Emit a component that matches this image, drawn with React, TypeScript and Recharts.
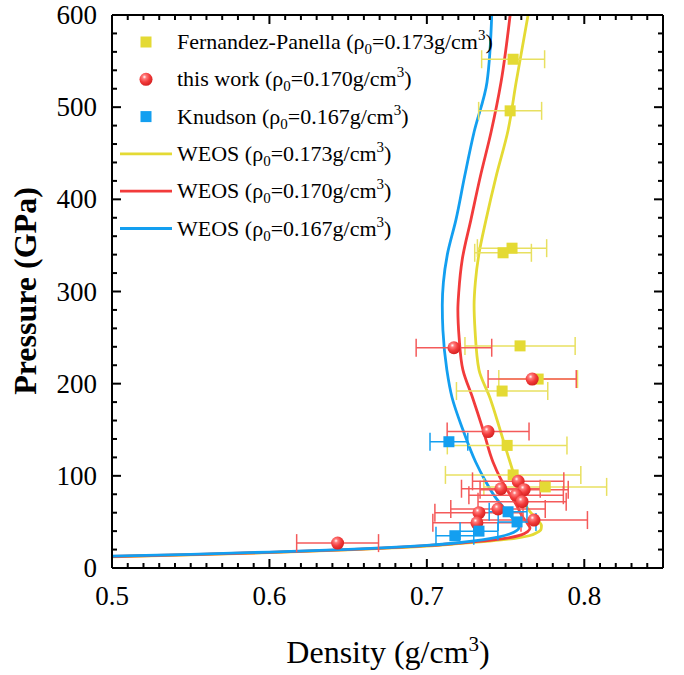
import React from 'react';
import { ComposedChart, Line, Scatter, XAxis, YAxis, ErrorBar, Label } from 'recharts';

const FONT = "'Times New Roman', 'Liberation Serif', serif";
const YELLOW = '#e4da34';
const YELLOW_ERR = '#e8e060';
const RED = '#f23b3b';
const RED_ERR = '#f45a5a';
const BLUE = '#139ff0';

// density ticks (g/cm3) and pressure ticks (GPa)
const xMajorTicks = [0.5, 0.6, 0.7, 0.8];
const xAllTicks = [
  0.5, 0.51, 0.52, 0.53, 0.54, 0.55, 0.56, 0.57, 0.58, 0.59,
  0.6, 0.61, 0.62, 0.63, 0.64, 0.65, 0.66, 0.67, 0.68, 0.69,
  0.7, 0.71, 0.72, 0.73, 0.74, 0.75, 0.76, 0.77, 0.78, 0.79,
  0.8, 0.81, 0.82, 0.83, 0.84, 0.85,
];
const yMajorTicks = [0, 100, 200, 300, 400, 500, 600];
const yAllTicks = [
  0, 20, 40, 60, 80, 100, 120, 140, 160, 180, 200, 220, 240, 260, 280, 300,
  320, 340, 360, 380, 400, 420, 440, 460, 480, 500, 520, 540, 560, 580, 600,
];

// experimental points: x = density, y = pressure, e = density error
const fernandezPanella = [
  { x: 0.7548, y: 552, e: 0.020 },
  { x: 0.7529, y: 496, e: 0.020 },
  { x: 0.7541, y: 347, e: 0.022 },
  { x: 0.7484, y: 342, e: 0.018 },
  { x: 0.7592, y: 241, e: 0.035 },
  { x: 0.7707, y: 205, e: 0.025 },
  { x: 0.7478, y: 192, e: 0.029 },
  { x: 0.7510, y: 133, e: 0.038 },
  { x: 0.7548, y: 101, e: 0.043 },
  { x: 0.7752, y: 88, e: 0.039 },
];

const thisWork = [
  { x: 0.7172, y: 239, e: 0.024 },
  { x: 0.7669, y: 205, e: 0.028 },
  { x: 0.7389, y: 148, e: 0.026 },
  { x: 0.7580, y: 94, e: 0.029 },
  { x: 0.7470, y: 86, e: 0.025 },
  { x: 0.7618, y: 85, e: 0.028 },
  { x: 0.7567, y: 79, e: 0.030 },
  { x: 0.7605, y: 72, e: 0.028 },
  { x: 0.7452, y: 64, e: 0.030 },
  { x: 0.7331, y: 60, e: 0.028 },
  { x: 0.7318, y: 49, e: 0.028 },
  { x: 0.7680, y: 52, e: 0.034 },
  { x: 0.6433, y: 27, e: 0.026 },
];

const knudson = [
  { x: 0.7140, y: 137, e: 0.012 },
  { x: 0.7516, y: 61, e: 0.012 },
  { x: 0.7573, y: 50, e: 0.012 },
  { x: 0.7331, y: 40, e: 0.012 },
  { x: 0.7178, y: 35, e: 0.012 },
];

// WEOS Hugoniots, ordered by pressure
const weos173 = [
  { x: 0.500, y: 12.2 }, { x: 0.550, y: 14.2 }, { x: 0.600, y: 16.7 }, { x: 0.650, y: 19.7 },
  { x: 0.700, y: 23.8 }, { x: 0.720, y: 26.4 }, { x: 0.740, y: 29.3 }, { x: 0.755, y: 32 },
  { x: 0.765, y: 35 }, { x: 0.770, y: 38.5 }, { x: 0.7725, y: 42 }, { x: 0.7728, y: 46 },
  { x: 0.771, y: 51 }, { x: 0.767, y: 58 }, { x: 0.762, y: 70 }, { x: 0.758, y: 85 },
  { x: 0.7555, y: 100 }, { x: 0.751, y: 125 }, { x: 0.7465, y: 150 }, { x: 0.740, y: 185 },
  { x: 0.7331, y: 215 }, { x: 0.7306, y: 258 }, { x: 0.730, y: 285 }, { x: 0.7308, y: 310 },
  { x: 0.733, y: 340 }, { x: 0.7376, y: 378 }, { x: 0.744, y: 425 }, { x: 0.7516, y: 475 },
  { x: 0.7567, y: 527 }, { x: 0.7643, y: 600 },
];

const weos170 = [
  { x: 0.500, y: 12.5 }, { x: 0.550, y: 14.5 }, { x: 0.600, y: 17.0 }, { x: 0.650, y: 20.0 },
  { x: 0.700, y: 24.2 }, { x: 0.720, y: 26.9 }, { x: 0.740, y: 30.0 }, { x: 0.752, y: 32.8 },
  { x: 0.760, y: 36 }, { x: 0.764, y: 39.5 }, { x: 0.7655, y: 43 }, { x: 0.764, y: 48 },
  { x: 0.761, y: 55 }, { x: 0.757, y: 68 }, { x: 0.752, y: 82 }, { x: 0.7465, y: 98 },
  { x: 0.742, y: 115 }, { x: 0.7357, y: 150 }, { x: 0.729, y: 185 }, { x: 0.7229, y: 215 },
  { x: 0.7205, y: 250 }, { x: 0.7197, y: 280 }, { x: 0.7203, y: 300 }, { x: 0.7225, y: 335 },
  { x: 0.728, y: 378 }, { x: 0.734, y: 425 }, { x: 0.7408, y: 473 }, { x: 0.7471, y: 527 },
  { x: 0.7529, y: 600 },
];

const weos167 = [
  { x: 0.500, y: 12.8 }, { x: 0.550, y: 14.8 }, { x: 0.600, y: 17.3 }, { x: 0.650, y: 20.3 },
  { x: 0.700, y: 24.6 }, { x: 0.720, y: 27.4 }, { x: 0.735, y: 30.5 }, { x: 0.746, y: 33.8 },
  { x: 0.753, y: 37.2 }, { x: 0.757, y: 40.5 }, { x: 0.7585, y: 44 }, { x: 0.7575, y: 48 },
  { x: 0.754, y: 55 }, { x: 0.749, y: 65 }, { x: 0.743, y: 78 }, { x: 0.737, y: 95 },
  { x: 0.731, y: 115 }, { x: 0.7229, y: 150 }, { x: 0.716, y: 185 }, { x: 0.7127, y: 215 },
  { x: 0.7102, y: 258 }, { x: 0.7098, y: 285 }, { x: 0.7105, y: 310 }, { x: 0.713, y: 340 },
  { x: 0.7185, y: 378 }, { x: 0.724, y: 425 }, { x: 0.730, y: 473 }, { x: 0.7382, y: 527 },
  { x: 0.7412, y: 600 },
];

const legendRows = [
  { kind: 'square', color: YELLOW, name: 'Fernandez-Panella', rho: '0.173' },
  { kind: 'ball', color: RED, name: 'this work', rho: '0.170' },
  { kind: 'square', color: BLUE, name: 'Knudson', rho: '0.167' },
  { kind: 'line', color: YELLOW, name: 'WEOS', rho: '0.173' },
  { kind: 'line', color: RED, name: 'WEOS', rho: '0.170' },
  { kind: 'line', color: BLUE, name: 'WEOS', rho: '0.167' },
];

const isMajor = (v: number, step: number) => Math.abs(v / step - Math.round(v / step)) < 1e-6;

const BottomTick = ({ x, y, payload }: any) => {
  const major = isMajor(payload.value, 0.1);
  return (
    <g>
      <line x1={x} x2={x} y1={y} y2={y - (major ? 9 : 5)} stroke="#000" strokeWidth={2} />
      {major && xMajorTicks.some((t) => Math.abs(t - payload.value) < 1e-6) && (
        <text x={x} y={y + 37} textAnchor="middle" fontSize={27} fontFamily={FONT} fill="#000">
          {payload.value.toFixed(1)}
        </text>
      )}
    </g>
  );
};

const TopTick = ({ x, y, payload }: any) => {
  const major = isMajor(payload.value, 0.1);
  return <line x1={x} x2={x} y1={y} y2={y + (major ? 9 : 5)} stroke="#000" strokeWidth={2} />;
};

const LeftTick = ({ x, y, payload }: any) => {
  const major = isMajor(payload.value, 100);
  return (
    <g>
      <line x1={x} x2={x + (major ? 9 : 5)} y1={y} y2={y} stroke="#000" strokeWidth={2} />
      {major && yMajorTicks.includes(payload.value) && (
        <text x={x - 15} y={y + 9} textAnchor="end" fontSize={27} fontFamily={FONT} fill="#000">
          {payload.value}
        </text>
      )}
    </g>
  );
};

const RightTick = ({ x, y, payload }: any) => {
  const major = isMajor(payload.value, 100);
  return <line x1={x} x2={x - (major ? 9 : 5)} y1={y} y2={y} stroke="#000" strokeWidth={2} />;
};

const Square = (color: string) => (p: any) => (
  <rect x={p.cx - 5.5} y={p.cy - 5.5} width={11} height={11} fill={color} />
);

const BallDefs = () => (
  <defs>
    <radialGradient id="redBall" cx="38%" cy="32%" r="68%">
      <stop offset="0" stopColor="#ffffff" />
      <stop offset="0.22" stopColor="#ff7a7a" />
      <stop offset="0.6" stopColor="#f23b3b" />
      <stop offset="1" stopColor="#d62222" />
    </radialGradient>
  </defs>
);

const Ball = (p: any) => (
  <g>
    <BallDefs />
    <circle cx={p.cx} cy={p.cy} r={6.5} fill="url(#redBall)" />
  </g>
);

const XTitle = () => (
  <text x={388} y={663} textAnchor="middle" fontSize={32} fontFamily={FONT} fill="#000">
    Density (g/cm<tspan dy={-12} fontSize={21}>3</tspan><tspan dy={12}>)</tspan>
  </text>
);

const YTitle = () => (
  <text
    x={0}
    y={0}
    transform="translate(36,291) rotate(-90)"
    textAnchor="middle"
    fontSize={32}
    fontWeight="bold"
    fontFamily={FONT}
    fill="#000"
  >
    Pressure (GPa)
  </text>
);

const LegendBox = () => (
  <svg width={684} height={675} style={{ position: 'absolute', left: 0, top: 0, pointerEvents: 'none' }}>
    <BallDefs />
    {legendRows.map((r, i) => {
      const cy = 42 + i * 37.3;
      return (
        <g key={i}>
          {r.kind === 'square' && <rect x={140.5} y={cy - 5.5} width={11} height={11} fill={r.color} />}
          {r.kind === 'ball' && <circle cx={146} cy={cy} r={6.5} fill="url(#redBall)" />}
          {r.kind === 'line' && <line x1={120} x2={172} y1={cy} y2={cy} stroke={r.color} strokeWidth={2.8} />}
          <text x={177} y={cy + 7} fontSize={22} fontFamily={FONT} fill="#000">
            {r.name} (ρ<tspan dy={5} fontSize={15}>0</tspan>
            <tspan dy={-5}>={r.rho}g/cm</tspan>
            <tspan dy={-9} fontSize={15}>3</tspan>
            <tspan dy={9}>)</tspan>
          </text>
        </g>
      );
    })}
  </svg>
);

export default function App() {
  return (
    <div style={{ position: 'absolute', left: 0, top: 0, width: 684, height: 675, background: '#fff' }}>
      <ComposedChart width={684} height={675} margin={{ top: 14, right: 20, bottom: 47, left: 52 }}>
        <XAxis
          xAxisId="b" dataKey="x" type="number" domain={[0.5, 0.85]} allowDataOverflow
          ticks={xAllTicks} interval={0} tickSize={0} tickMargin={0} tickLine={false}
          tick={<BottomTick />} height={60} axisLine={{ stroke: '#000', strokeWidth: 2 }}
        >
          <Label content={<XTitle />} />
        </XAxis>
        <XAxis
          xAxisId="t" orientation="top" dataKey="x" type="number" domain={[0.5, 0.85]} allowDataOverflow
          ticks={xAllTicks} interval={0} tickSize={0} tickMargin={0} tickLine={false}
          tick={<TopTick />} height={1} axisLine={{ stroke: '#000', strokeWidth: 2 }}
        />
        <YAxis
          yAxisId="l" dataKey="y" type="number" domain={[0, 600]} allowDataOverflow
          ticks={yAllTicks} interval={0} tickSize={0} tickMargin={0} tickLine={false}
          tick={<LeftTick />} width={60} axisLine={{ stroke: '#000', strokeWidth: 2 }}
        >
          <Label content={<YTitle />} />
        </YAxis>
        <YAxis
          yAxisId="r" orientation="right" dataKey="y" type="number" domain={[0, 600]} allowDataOverflow
          ticks={yAllTicks} interval={0} tickSize={0} tickMargin={0} tickLine={false}
          tick={<RightTick />} width={1} axisLine={{ stroke: '#000', strokeWidth: 2 }}
        />

        <Line xAxisId="b" yAxisId="l" data={weos173} dataKey="y" type="monotoneY" stroke={YELLOW} strokeWidth={2.8} dot={false} isAnimationActive={false} />
        <Line xAxisId="b" yAxisId="l" data={weos170} dataKey="y" type="monotoneY" stroke={RED} strokeWidth={2.8} dot={false} isAnimationActive={false} />
        <Line xAxisId="b" yAxisId="l" data={weos167} dataKey="y" type="monotoneY" stroke={BLUE} strokeWidth={2.8} dot={false} isAnimationActive={false} />

        <Scatter xAxisId="b" yAxisId="l" data={fernandezPanella} shape={Square(YELLOW)} isAnimationActive={false}>
          <ErrorBar dataKey="e" direction="x" width={9} stroke={YELLOW_ERR} strokeWidth={1.5} isAnimationActive={false} />
        </Scatter>
        <Scatter xAxisId="b" yAxisId="l" data={thisWork} shape={Ball} isAnimationActive={false}>
          <ErrorBar dataKey="e" direction="x" width={9} stroke={RED_ERR} strokeWidth={1.5} isAnimationActive={false} />
        </Scatter>
        <Scatter xAxisId="b" yAxisId="l" data={knudson} shape={Square(BLUE)} isAnimationActive={false}>
          <ErrorBar dataKey="e" direction="x" width={9} stroke={BLUE} strokeWidth={1.5} isAnimationActive={false} />
        </Scatter>
      </ComposedChart>
      <LegendBox />
    </div>
  );
}
